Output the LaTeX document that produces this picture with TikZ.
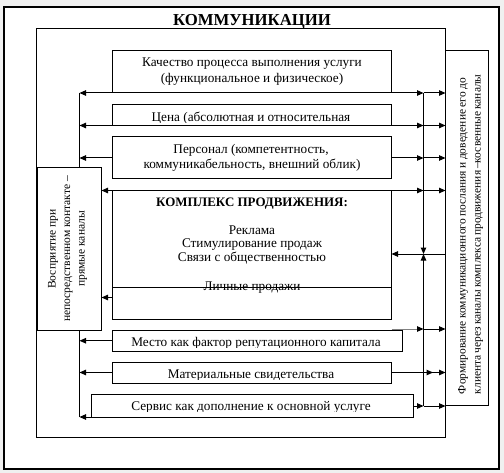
\documentclass[tikz,border=0pt]{standalone}
\usepackage{fontspec}
\setmainfont{Liberation Serif}
\usetikzlibrary{arrows.meta,fit}
\definecolor{bgc}{RGB}{240,240,240}
\definecolor{greyln}{RGB}{128,128,128}
\begin{document}
\begin{tikzpicture}[x=1bp,y=-1bp,
  lw/.style={line width=1bp},
  bx/.style={draw, fill=white, line width=1bp, inner sep=0pt, outer sep=0pt},
  arr/.style={lw, -{Triangle[length=6.5bp,width=5.5bp]}},
  barr/.style={lw, {Triangle[length=6.5bp,width=5.5bp]}-{Triangle[length=6.5bp,width=5.5bp]}},
  grarr/.style={line width=1bp, greyln, -{Triangle[length=6.5bp,width=5.5bp,color=black]}},
  txt/.style={inner sep=0pt, font=\fontsize{13.3}{14}\selectfont},
  btxt/.style={inner sep=0pt, font=\fontsize{13}{14}\selectfont\bfseries},
  vtxt/.style={inner sep=0pt, rotate=90, align=center},
]
% background and margins
\fill[bgc] (0,0) rectangle (504,473);
\useasboundingbox (0,0) rectangle (504,473);
\node[bx, line width=1.5bp, fit={(4,7) (499,469)}] (frame) {};
\node[inner sep=0pt, font=\fontsize{16.8}{18}\selectfont\bfseries] (title) at (252,21.5) {КОММУНИКАЦИИ};
\node[bx, fit={(36.5,29) (445.5,437)}] (inner) {};

% bus coordinates
\coordinate (Ltop) at (79.5,93);
\coordinate (Lbot) at (79.5,417);
\coordinate (Rtop) at (423.5,93);
\coordinate (Rmid) at (423.5,254);
\coordinate (Rbot) at (423.5,406);
\coordinate (y6) at (0,297.5);
\coordinate (y7) at (0,329);

% left bus (partly hidden by the left box)
\draw[lw] (Ltop) -- (Lbot);

% boxes
\node[bx, fit={(445.5,51) (488,405)}] (rbox) {};
\node[bx, fit={(37,168) (101.5,330)}] (lbox) {};
\node[bx, fit={(112.5,51) (391.5,93)}] (b1) {};
\node[bx, fit={(112.5,104.5) (391.5,125.5)}] (b2) {};
\node[bx, fit={(112.5,137) (391.5,179)}] (b3) {};
\node[bx, fit={(112.5,190.5) (391.5,319)}] (b4) {};
\node[bx, fit={(112.5,330.5) (402,351)}] (b5) {};
\node[bx, fit={(112.5,362) (391.5,383)}] (b6) {};
\node[bx, fit={(91,394) (413,417)}] (b7) {};
\coordinate (b4lw) at (112.5,287);
\coordinate (b4le) at (391.5,287);

% texts
\node[txt, anchor=base] (t1a) at (252,66.7) {Качество процесса выполнения услуги};
\node[txt, anchor=base] (t1b) at (252,83) {(функциональное и физическое)};
\begin{scope}
  \clip (112.5,104.5) rectangle (391.5,122.3);
  \node[txt, anchor=base] (t2) at (251,121.5) {Цена (абсолютная и относительная};
\end{scope}
\node[txt, anchor=base] (t3a) at (251,153.5) {Персонал (компетентность,};
\node[txt, anchor=base] (t3b) at (252,168.5) {коммуникабельность, внешний облик)};
\node[btxt, anchor=base] (t4) at (252,207) {КОМПЛЕКС ПРОДВИЖЕНИЯ:};
\node[txt, anchor=base] (t4a) at (252,234.3) {Реклама};
\node[txt, anchor=base] (t4b) at (252,247.7) {Стимулирование продаж};
\node[txt, anchor=base] (t4c) at (252,261) {Связи с общественностью};
\node[txt, anchor=base] (t4d) at (252,290.5) {Личные продажи};
\draw[lw] (b4lw) -- (b4le);
\begin{scope}
  \clip (112.5,330.5) rectangle (402,347.3);
  \node[txt, anchor=base] (t5) at (256,346.5) {Место как фактор репутационного капитала};
\end{scope}
\begin{scope}
  \clip (112.5,362) rectangle (391.5,379.3);
  \node[txt, anchor=base] (t6) at (251,378.5) {Материальные свидетельства};
\end{scope}
\begin{scope}
  \clip (91,394) rectangle (413,411.3);
  \node[txt, anchor=base] (t7) at (251,410.5) {Сервис как дополнение к основной услуге};
\end{scope}
\node[vtxt, font=\fontsize{11.6}{14.5}\selectfont] (tl) at (67.5,249)
  {Восприятие при\\непосредственном контакте –\\прямые каналы};
\node[vtxt, font=\fontsize{11.5}{15}\selectfont] (tr) at (470.5,236)
  {\makebox[316bp][s]{Формирование коммуникационного послания и доведение его до}\\
   \makebox[316bp][s]{клиента через каналы комплекса продвижения –косвенные каналы}};

% right bus
\draw[arr] (Rtop) -- (Rmid);
\draw[arr] (Rbot) -- (Rmid);

% row 1
\draw[barr] (Ltop) -- (Rtop);
\draw[arr] (Rtop) -- (Rtop -| rbox.west);
% row 2
\draw[barr] (b2.south -| Ltop) -- (b2.south -| Rtop);
\draw[arr] (b2.south -| Rtop) -- (b2.south -| rbox.west);
% row 3
\draw[arr] (b3.west) -- (b3.west -| Ltop);
\draw[arr] (b3.east) -- (b3.east -| Rtop);
\draw[arr] (b3.east -| Rtop) -- (b3.east -| rbox.west);
% row 4
\draw[barr] (lbox.east |- b4.north) -- (b4.north -| Rtop);
\draw[arr] (b4.north -| Rtop) -- (b4.north -| rbox.west);
% row 5
\draw[arr] (rbox.west |- Rmid) -- (b4.east |- Rmid);
% row 6
\draw[arr] (b4.west |- y6) -- (lbox.east |- y6);
% row 7
\draw[grarr] (b4.east |- y7) -- (Rtop |- y7);
\draw[arr] (Rtop |- y7) -- (rbox.west |- y7);
% row 8
\draw[arr] (b5.west) -- (b5.west -| Ltop);
% row 9
\draw[arr] (b6.west) -- (b6.west -| Ltop);
\draw[arr] (b6.east) -- ([xshift=9.5bp]b6.east -| Rtop);
\draw[arr] (b6.east -| Rtop) -- (b6.east -| rbox.west);
% row 10
\draw[arr] (b7.east |- Rbot) -- (Rbot);
\draw[arr] (Rbot) -- (Rbot -| rbox.west);
% row 11
\draw[arr] (b7.south west) -- (Lbot);
\end{tikzpicture}
\end{document}
